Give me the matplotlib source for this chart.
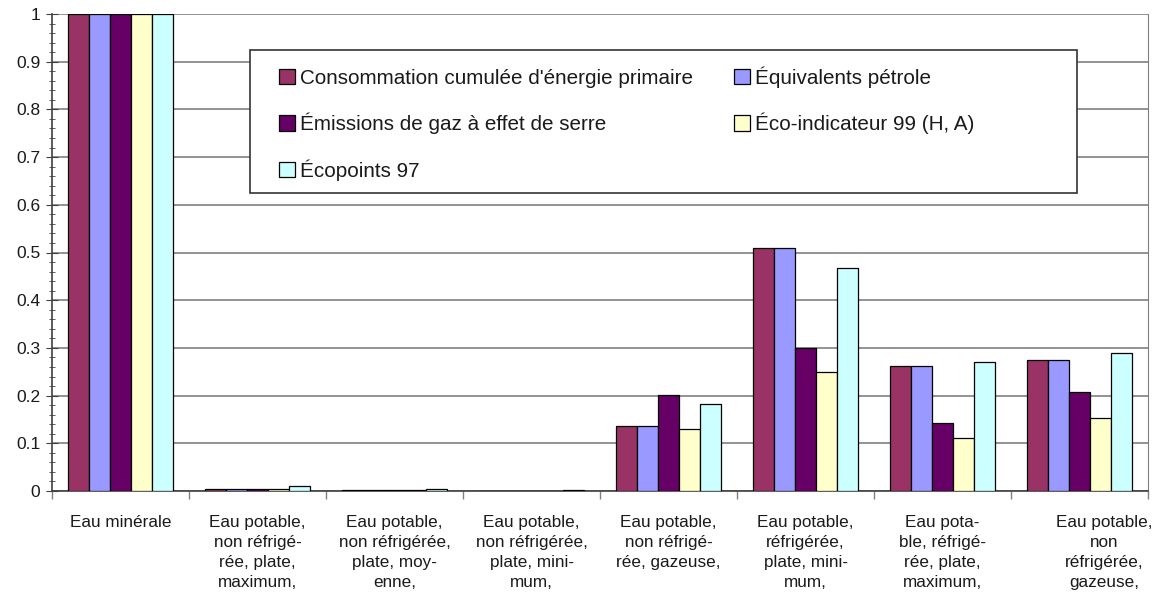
import matplotlib.pyplot as plt
import matplotlib.patches as mpatches
import numpy as np

plt.rcParams['font.family'] = ['Liberation Sans', 'DejaVu Sans']

categories = [
    'Eau minérale',
    'Eau potable,\nnon réfrigé-\nrée, plate,\nmaximum,',
    'Eau potable,\nnon réfrigérée,\nplate, moy-\nenne,',
    'Eau potable,\nnon réfrigérée,\nplate, mini-\nmum,',
    'Eau potable,\nnon réfrigé-\nrée, gazeuse,',
    'Eau potable,\nréfrigérée,\nplate, mini-\nmum,',
    'Eau pota-\nble, réfrigé-\nrée, plate,\nmaximum,',
    'Eau potable,\nnon\nréfrigérée,\ngazeuse,',
]

series_names = [
    "Consommation cumulée d'énergie primaire",
    'Équivalents pétrole',
    'Émissions de gaz à effet de serre',
    'Éco-indicateur 99 (H, A)',
    'Écopoints 97',
]

ced = [1.0, 0.005, 0.002, 0.0, 0.136, 0.510, 0.262, 0.275]
petrole = [1.0, 0.005, 0.002, 0.0, 0.136, 0.510, 0.262, 0.275]
ges = [1.0, 0.005, 0.002, 0.0, 0.201, 0.300, 0.143, 0.208]
eco99 = [1.0, 0.005, 0.002, 0.0, 0.130, 0.250, 0.112, 0.153]
eco97 = [1.0, 0.011, 0.005, 0.002, 0.182, 0.467, 0.270, 0.289]

colors = ['#993366', '#9999FF', '#660066', '#FFFFCC', '#CCFFFF']

fig = plt.figure(figsize=(11.6, 5.92), dpi=100)
ax = fig.add_axes([52 / 1160, 101 / 592, 1096 / 1160, 477 / 592])

x = np.arange(len(categories))
n = 5
bw = 1 / (n + 1.5)
handles = []
for i, vals in enumerate([ced, petrole, ges, eco99, eco97]):
    b = ax.bar(x - 2.5 * bw + (i + 0.5) * bw, vals, bw, color=colors[i],
               edgecolor='black', linewidth=0.9, zorder=3, label=series_names[i])
    handles.append(b)

ax.set_xlim(-0.5, len(categories) - 0.5)
ax.set_ylim(0, 1)
ax.set_yticks(np.arange(0, 1.01, 0.1))
ax.set_yticklabels(['0', '0.1', '0.2', '0.3', '0.4', '0.5', '0.6', '0.7', '0.8', '0.9', '1'])
ax.set_yticks(np.arange(0, 1.001, 0.02), minor=True)
ax.grid(axis='y', color='#808080', linewidth=1.2, zorder=0)

ax.set_xticks(np.arange(len(categories) + 1) - 0.5)
ax.set_xticklabels([])
ax.tick_params(axis='x', direction='out', length=6, color='#808080', width=1)
ax.tick_params(axis='y', which='major', direction='inout', length=9, color='#404040',
               labelsize=12.5, pad=4, labelcolor='#1a1a1a')
ax.tick_params(axis='y', which='minor', direction='inout', length=5, color='#404040')

for i, lab in enumerate(categories):
    xpos = i + (0.18 if i == len(categories) - 1 else 0)
    ax.text(xpos, -0.05, lab, ha='center', va='top', fontsize=12.3,
            color='#1a1a1a', linespacing=1.42)

for s in ['left', 'bottom']:
    ax.spines[s].set_color('#404040')
    ax.spines[s].set_linewidth(1.2)
ax.spines['right'].set_color('#808080')
ax.spines['top'].set_visible(False)

order = [0, 2, 4, 1, 3]
leg = fig.legend([handles[k] for k in order], [series_names[k] for k in order],
                 ncol=2, loc='upper left', bbox_to_anchor=(279 / 1160, 1 - 66 / 592),
                 frameon=False, fontsize=14.9, handlelength=0.75, handleheight=0.75,
                 handletextpad=0.25, labelspacing=1.22, columnspacing=2.0,
                 borderpad=0, borderaxespad=0)
for t in leg.get_texts():
    t.set_color('#1a1a1a')

fig.add_artist(mpatches.Rectangle((250 / 1160, 1 - 193 / 592), 827 / 1160, 143 / 592,
                                  transform=fig.transFigure, facecolor='white',
                                  edgecolor='#333333', linewidth=1.2, zorder=2))
leg.set_zorder(5)

fig.savefig('out.png', dpi=100)
